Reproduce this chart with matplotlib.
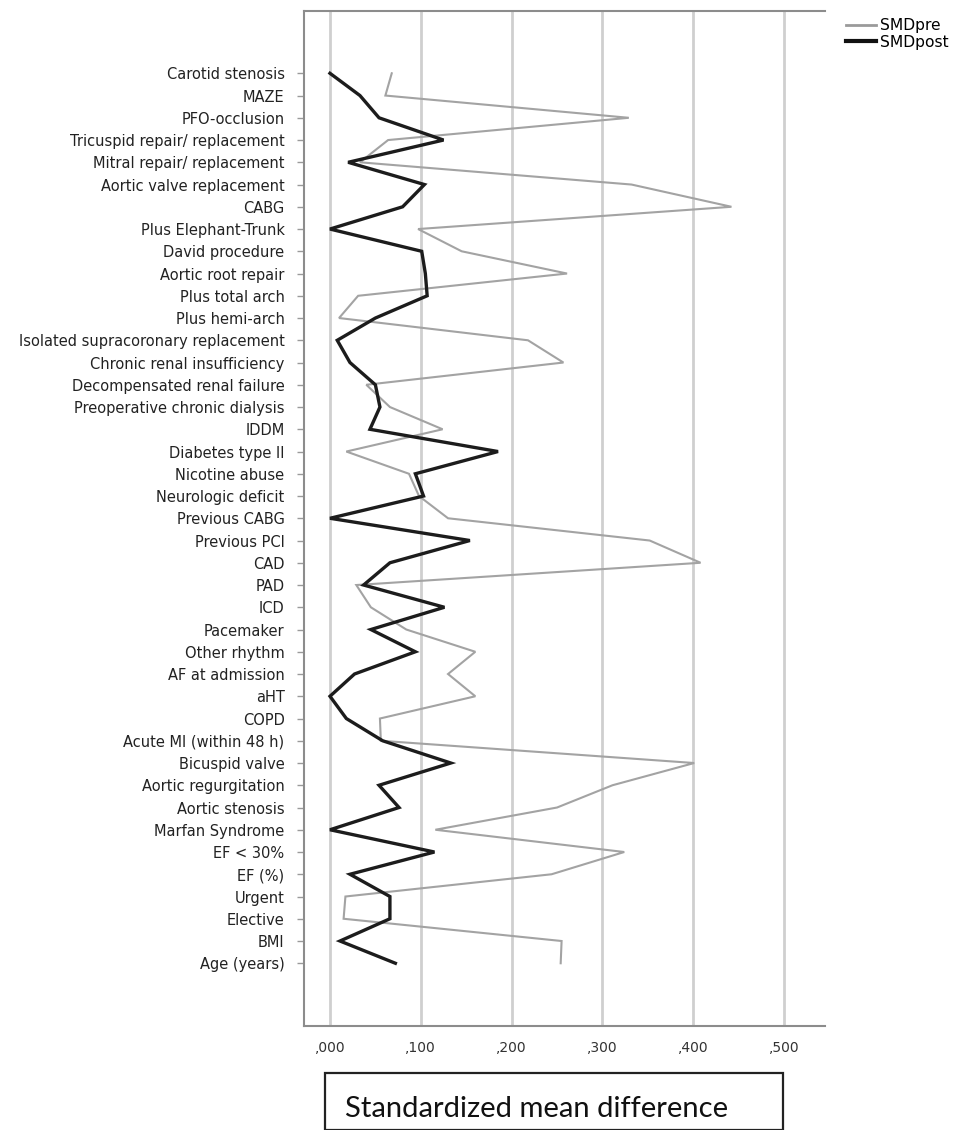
import matplotlib
matplotlib.use("Agg")
import matplotlib.pyplot as plt
from matplotlib.lines import Line2D
from matplotlib.patches import Rectangle

variables = [
    "Carotid stenosis", "MAZE", "PFO-occlusion", "Tricuspid repair/ replacement",
    "Mitral repair/ replacement", "Aortic valve replacement", "CABG",
    "Plus Elephant-Trunk", "David procedure", "Aortic root repair",
    "Plus total arch", "Plus hemi-arch", "Isolated supracoronary replacement",
    "Chronic renal insufficiency", "Decompensated renal failure",
    "Preoperative chronic dialysis", "IDDM", "Diabetes type II",
    "Nicotine abuse", "Neurologic deficit", "Previous CABG", "Previous PCI",
    "CAD", "PAD", "ICD", "Pacemaker", "Other rhythm", "AF at admission",
    "aHT", "COPD", "Acute MI (within 48 h)", "Bicuspid valve",
    "Aortic regurgitation", "Aortic stenosis", "Marfan Syndrome",
    "EF < 30%", "EF (%)", "Urgent", "Elective", "BMI", "Age (years)",
]

smd_pre = [
    0.068, 0.061, 0.329, 0.064, 0.033, 0.332, 0.442, 0.097, 0.145, 0.261,
    0.031, 0.010, 0.218, 0.257, 0.040, 0.066, 0.124, 0.018, 0.087, 0.098,
    0.130, 0.352, 0.408, 0.029, 0.045, 0.084, 0.160, 0.130, 0.160, 0.055,
    0.056, 0.401, 0.311, 0.250, 0.116, 0.324, 0.244, 0.017, 0.015, 0.255,
    0.254,
]

smd_post = [
    0.000, 0.033, 0.054, 0.125, 0.020, 0.104, 0.080, 0.000, 0.101, 0.105,
    0.107, 0.050, 0.008, 0.022, 0.050, 0.055, 0.044, 0.185, 0.094, 0.103,
    0.000, 0.154, 0.066, 0.037, 0.126, 0.045, 0.094, 0.027, 0.000, 0.018,
    0.058, 0.133, 0.054, 0.076, 0.000, 0.115, 0.022, 0.066, 0.066, 0.011,
    0.072,
]

x_ticks = [0.0, 0.1, 0.2, 0.3, 0.4, 0.5]
x_tick_labels = [",000", ",100", ",200", ",300", ",400", ",500"]

W, H = 959, 1130
fig = plt.figure(figsize=(W / 100, H / 100), dpi=100)
fig.patch.set_facecolor("white")

ax = fig.add_axes([304 / W, 1 - 1026 / H, (825 - 304) / W, (1026 - 11) / H])

pos = list(range(len(variables)))
ax.plot(smd_pre, pos, color="#a3a3a3", lw=1.5, solid_joinstyle="miter", zorder=3)
ax.plot(smd_post, pos, color="#1c1c1c", lw=2.4, solid_joinstyle="miter", zorder=4)

ax.set_xlim(-0.0286, 0.545)
ax.set_ylim(42.82, -2.8)

ax.set_xticks(x_ticks)
ax.set_xticklabels(x_tick_labels, fontsize=10, color="#333333",
                   family="DejaVu Sans")
ax.tick_params(axis="x", length=0, pad=11)
ax.xaxis.grid(True, color="#cfcfcf", lw=2.0)
ax.set_axisbelow(True)

ax.set_yticks(pos)
ax.set_yticklabels(variables, fontsize=10.5, color="#222222",
                   family="DejaVu Sans")
ax.tick_params(axis="y", length=5, width=1, color="#9a9a9a", pad=9)

for side in ("left", "bottom", "top"):
    ax.spines[side].set_color("#8c8c8c")
    ax.spines[side].set_linewidth(1.5)
ax.spines["right"].set_visible(False)

legend_handles = [
    Line2D([], [], color="#9a9a9a", lw=2.0),
    Line2D([], [], color="#111111", lw=3.0),
]
fig.legend(legend_handles, ["SMDpre", "SMDpost"], loc="upper left",
           bbox_to_anchor=(846 / W, 1 - 18 / H), frameon=False,
           prop={"family": "DejaVu Sans", "size": 11.2},
           handlelength=1.9, handletextpad=0.3, labelspacing=0.12,
           borderaxespad=0, borderpad=0)

box = Rectangle((325 / W, 0), (783 - 325) / W, (H - 1073) / H,
                transform=fig.transFigure, fill=False, edgecolor="#222222",
                lw=1.6, clip_on=False)
fig.patches.append(box)
fig.text(345 / W, 1 - 1109 / H, "Standardized mean difference",
         fontsize=21, family="Lato", color="#111111", va="center", ha="left")

fig.savefig("out.png", dpi=100, facecolor="white")
